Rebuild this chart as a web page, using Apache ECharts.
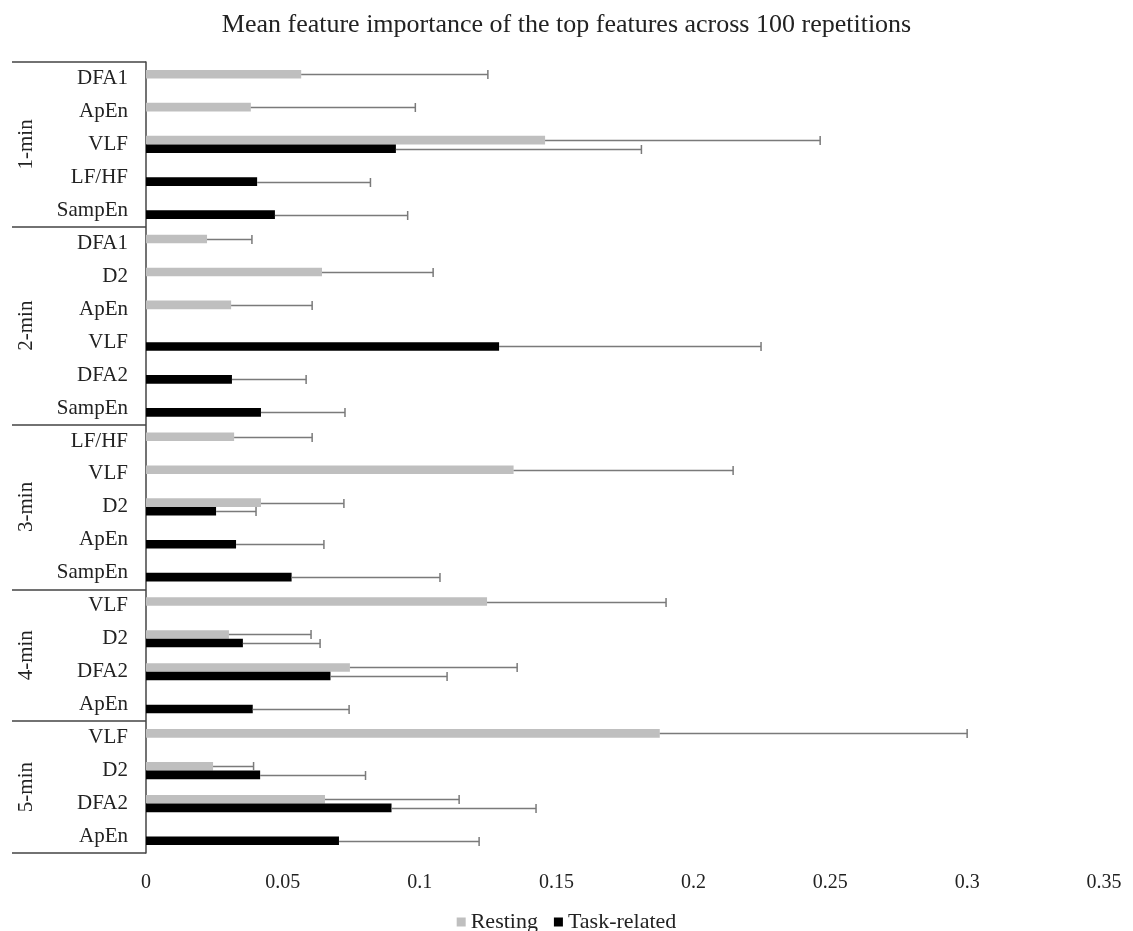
<!DOCTYPE html>
<html>
<head>
<meta charset="utf-8">
<title>Mean feature importance</title>
<script src="https://cdn.jsdelivr.net/npm/echarts@6/dist/echarts.min.js"></script>
<style>
  html, body { margin: 0; padding: 0; background: #fff; }
  #chart { width: 1133px; height: 931px; }
</style>
</head>
<body>
<div id="chart"></div>
<script>
// categories, top to bottom
var features = ['DFA1', 'ApEn', 'VLF', 'LF/HF', 'SampEn',
                'DFA1', 'D2', 'ApEn', 'VLF', 'DFA2', 'SampEn',
                'LF/HF', 'VLF', 'D2', 'ApEn', 'SampEn',
                'VLF', 'D2', 'DFA2', 'ApEn',
                'VLF', 'D2', 'DFA2', 'ApEn'];
var groups = ['1-min', '2-min', '3-min', '4-min', '5-min'];
var groupSizes = [5, 6, 5, 4, 4];

// mean importance and upper error (mean + sd), null = not in top features
var restMean = [0.0567, 0.0383, 0.1458, null, null,
                0.0223, 0.0643, 0.0311, null, null, null,
                0.0322, 0.1343, 0.0420, null, null,
                0.1246, 0.0303, 0.0745, null,
                0.1877, 0.0245, 0.0654, null];
var restUpper = [0.1249, 0.0984, 0.2463, null, null,
                 0.0387, 0.1049, 0.0607, null, null, null,
                 0.0607, 0.2145, 0.0723, null, null,
                 0.1900, 0.0603, 0.1356, null,
                 0.3000, 0.0393, 0.1144, null];
var taskMean = [null, null, 0.0913, 0.0406, 0.0471,
                null, null, null, 0.1290, 0.0314, 0.0420,
                null, null, 0.0256, 0.0329, 0.0532,
                null, 0.0354, 0.0674, 0.0390,
                null, 0.0417, 0.0897, 0.0705];
var taskUpper = [null, null, 0.1810, 0.0820, 0.0956,
                 null, null, null, 0.2247, 0.0585, 0.0727,
                 null, null, 0.0402, 0.0650, 0.1074,
                 null, 0.0636, 0.1100, 0.0742,
                 null, 0.0802, 0.1425, 0.1217];

var FONT = 'Liberation Serif';
var catGap = 0.48;

var chart = echarts.init(document.getElementById('chart'));

// group boundaries as category indices
var bounds = [];
var acc = 0;
for (var g = 0; g < groupSizes.length; g++) { bounds.push(acc); acc += groupSizes[g]; }

function errData(mean, upper) {
  var out = [];
  for (var i = 0; i < mean.length; i++) {
    if (mean[i] != null) out.push([i, mean[i], upper[i]]);
  }
  return out;
}

function errRender(side) {
  return function (params, api) {
    var idx = api.value(0);
    var p0 = api.coord([api.value(1), idx]);
    var p1 = api.coord([api.value(2), idx]);
    var band = api.size([0, 1])[1];
    var barW = band * (1 - catGap) / 2;
    var y = Math.round(p0[1] + side * barW / 2) + 0.5;
    var cap = 4.5;
    var st = { stroke: '#7a7a7a', lineWidth: 1.5 };
    return {
      type: 'group',
      children: [
        { type: 'line', shape: { x1: p0[0], y1: y, x2: p1[0], y2: y }, style: st },
        { type: 'line', shape: { x1: p1[0], y1: y - cap, x2: p1[0], y2: y + cap }, style: st }
      ]
    };
  };
}

chart.setOption({
  animation: false,
  title: {
    text: 'Mean feature importance of the top features across 100 repetitions',
    left: 'center',
    top: 7,
    textStyle: { fontFamily: FONT, fontSize: 26, fontWeight: 'normal', color: '#222' }
  },
  legend: {
    data: ['Resting', 'Task-related'],
    bottom: -7,
    left: 'center',
    icon: 'rect',
    itemWidth: 9,
    itemHeight: 9,
    itemGap: 16,
    textStyle: { fontFamily: FONT, fontSize: 22, color: '#222' }
  },
  grid: { left: 146, right: 29, top: 62, bottom: 78 },
  xAxis: {
    type: 'value',
    min: 0,
    max: 0.35,
    interval: 0.05,
    axisLine: { show: false },
    axisTick: { show: false },
    splitLine: { show: false },
    axisLabel: {
      margin: 20,
      fontFamily: FONT,
      fontSize: 20,
      color: '#222',
      formatter: function (v) { return String(+v.toFixed(2)); }
    }
  },
  yAxis: {
    type: 'category',
    inverse: true,
    data: features,
    axisLine: { show: true, lineStyle: { color: '#444', width: 1.5 } },
    axisTick: {
      show: true,
      length: 134,
      interval: function (index) { return bounds.indexOf(index) >= 0; },
      lineStyle: { color: '#444', width: 1.5 }
    },
    axisLabel: {
      interval: 0,
      margin: 18,
      fontFamily: FONT,
      fontSize: 21,
      color: '#222'
    }
  },
  series: [
    {
      name: 'Resting',
      type: 'bar',
      data: restMean,
      barGap: '0%',
      barCategoryGap: (catGap * 100) + '%',
      itemStyle: { color: '#bfbfbf' }
    },
    {
      name: 'Task-related',
      type: 'bar',
      data: taskMean,
      barGap: '0%',
      barCategoryGap: (catGap * 100) + '%',
      itemStyle: { color: '#000' }
    },
    {
      name: 'Resting err',
      type: 'custom',
      renderItem: errRender(-1),
      encode: { x: [1, 2], y: 0 },
      data: errData(restMean, restUpper),
      z: 3
    },
    {
      name: 'Task err',
      type: 'custom',
      renderItem: errRender(1),
      encode: { x: [1, 2], y: 0 },
      data: errData(taskMean, taskUpper),
      z: 3
    }
  ]
});

// rotated group labels, centred on each group through the axis scale
var graphics = [];
for (var k = 0; k < groups.length; k++) {
  var first = bounds[k];
  var last = bounds[k] + groupSizes[k] - 1;
  var yc = (chart.convertToPixel({ yAxisIndex: 0 }, first) + chart.convertToPixel({ yAxisIndex: 0 }, last)) / 2;
  graphics.push({
    type: 'text',
    x: 26,
    y: yc,
    rotation: Math.PI / 2,
    style: {
      text: groups[k],
      fontFamily: FONT,
      fontSize: 21,
      fill: '#222',
      align: 'center',
      verticalAlign: 'middle'
    }
  });
}
chart.setOption({ graphic: graphics });
</script>
</body>
</html>
